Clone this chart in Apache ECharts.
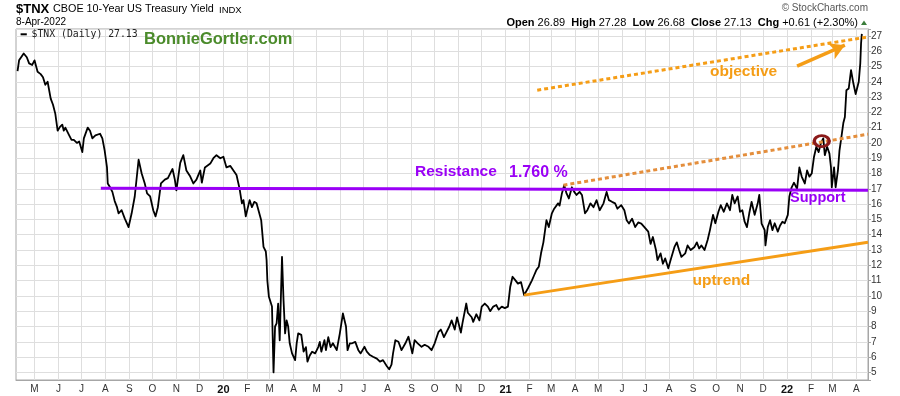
<!DOCTYPE html>
<html><head><meta charset="utf-8">
<script src="https://cdn.jsdelivr.net/npm/echarts@6/dist/echarts.min.js"></script>
<style>html,body{margin:0;padding:0;background:#fff}#c{width:900px;height:396px}</style>
</head><body><div id="c"></div><script>
// ---------- data ----------
const axisStart = '2019-04-07';
const axisEnd = '2022-04-16';
const monthLetters = ['J','F','M','A','M','J','J','A','S','O','N','D'];

const tnx2019 = [
['2019-04-09',24.7],['2019-04-11',25.4],['2019-04-15',25.7],['2019-04-17',25.85],['2019-04-21',25.6],['2019-04-24',25.2],['2019-04-28',25.1],
['2019-05-01',25.4],['2019-05-05',24.65],['2019-05-09',24.5],['2019-05-12',24.3],['2019-05-15',23.8],['2019-05-18',24.0],['2019-05-20',24.1],['2019-05-22',22.9],['2019-05-25',22.5],['2019-05-28',21.9],['2019-05-31',20.8],
['2019-06-03',21.05],['2019-06-06',21.2],['2019-06-08',20.8],['2019-06-10',21.0],['2019-06-15',20.5],['2019-06-18',20.2],['2019-06-21',20.2],['2019-06-25',20.0],['2019-06-28',20.1],
['2019-07-02',19.4],['2019-07-04',20.3],['2019-07-09',21.0],['2019-07-12',20.8],['2019-07-15',20.3],['2019-07-19',20.5],['2019-07-25',20.6],['2019-07-28',20.3],['2019-07-31',19.5],
['2019-08-03',18.4],['2019-08-04',17.35],['2019-08-07',17.1],['2019-08-10',16.8],['2019-08-13',16.2],['2019-08-16',15.8],['2019-08-18',15.4],['2019-08-22',15.6],['2019-08-26',15.07],['2019-08-31',14.5],
['2019-09-04',15.4],['2019-09-08',16.5],['2019-09-13',18.9],['2019-09-17',18.0],['2019-09-21',17.35],['2019-09-24',16.7],['2019-09-28',16.5],
['2019-10-02',15.6],['2019-10-05',15.2],['2019-10-08',15.8],['2019-10-12',17.35],['2019-10-17',17.6],['2019-10-21',17.7],['2019-10-27',18.3],['2019-10-30',17.6],
['2019-11-01',16.9],['2019-11-06',18.7],['2019-11-10',19.2],['2019-11-14',18.2],['2019-11-19',17.8],['2019-11-23',17.35],['2019-11-27',17.6],
['2019-12-02',18.2],['2019-12-04',17.4],['2019-12-08',18.4],['2019-12-15',18.65],['2019-12-19',19.0],['2019-12-23',19.2],['2019-12-28',19.0]
];
const tnx2020 = [
['2020-01-01',19.1],['2020-01-05',18.4],['2020-01-10',18.5],['2020-01-14',18.2],['2020-01-18',17.9],['2020-01-22',17.0],['2020-01-25',16.05],['2020-01-27',16.26],['2020-01-30',15.2],
['2020-02-01',15.07],['2020-02-04',16.26],['2020-02-07',15.8],['2020-02-10',16.15],['2020-02-13',16.05],['2020-02-16',15.5],['2020-02-19',14.95],['2020-02-22',13.2],['2020-02-25',12.9],['2020-02-26',12.34],['2020-02-27',11.0],['2020-02-29',9.94],
['2020-03-04',9.3],['2020-03-06',5.0],['2020-03-08',8.0],['2020-03-10',8.2],['2020-03-12',9.5],['2020-03-14',7.1],['2020-03-17',12.55],['2020-03-19',9.7],['2020-03-21',7.55],['2020-03-23',8.4],['2020-03-25',8.0],['2020-03-27',6.9],['2020-03-30',6.24],
['2020-04-03',5.8],['2020-04-05',6.9],['2020-04-07',7.55],['2020-04-11',7.45],['2020-04-14',6.35],['2020-04-17',6.65],['2020-04-19',5.7],['2020-04-22',6.1],['2020-04-25',6.35],['2020-04-29',6.24],
['2020-05-03',6.65],['2020-05-05',6.99],['2020-05-07',6.35],['2020-05-11',7.1],['2020-05-13',6.45],['2020-05-16',7.3],['2020-05-19',6.65],['2020-05-22',6.9],['2020-05-27',6.45],['2020-05-31',7.55],
['2020-06-04',8.85],['2020-06-08',8.0],['2020-06-10',6.45],['2020-06-13',6.9],['2020-06-16',6.9],['2020-06-20',6.99],['2020-06-24',6.45],['2020-06-27',6.24],
['2020-07-02',6.67],['2020-07-05',6.35],['2020-07-09',6.13],['2020-07-13',6.02],['2020-07-18',5.9],['2020-07-22',5.7],['2020-07-26',5.8],['2020-07-31',5.4],
['2020-08-03',5.2],['2020-08-06',5.5],['2020-08-08',6.24],['2020-08-11',7.1],['2020-08-15',7.0],['2020-08-19',6.45],['2020-08-24',6.9],['2020-08-28',7.33],['2020-08-30',6.9],
['2020-09-02',6.24],['2020-09-05',7.1],['2020-09-09',6.9],['2020-09-14',6.67],['2020-09-18',6.8],['2020-09-23',6.67],['2020-09-27',6.45],
['2020-10-01',6.9],['2020-10-06',7.65],['2020-10-09',7.8],['2020-10-13',7.3],['2020-10-16',7.6],['2020-10-20',8.0],['2020-10-23',8.4],['2020-10-27',7.8],['2020-10-30',8.6],
['2020-11-04',7.6],['2020-11-06',8.2],['2020-11-11',9.5],['2020-11-13',8.9],['2020-11-18',8.6],['2020-11-20',8.3],['2020-11-24',8.8],['2020-11-28',8.4],
['2020-12-01',9.3],['2020-12-05',9.5],['2020-12-09',9.3],['2020-12-12',9.0],['2020-12-16',9.3],['2020-12-20',9.4],['2020-12-23',9.1],['2020-12-27',9.3],['2020-12-31',9.2]
];
const tnx2021 = [
['2021-01-04',9.3],['2021-01-07',10.6],['2021-01-10',11.25],['2021-01-14',11.0],['2021-01-17',10.8],['2021-01-21',10.9],['2021-01-25',10.05],['2021-01-30',10.5],
['2021-02-04',11.0],['2021-02-07',11.35],['2021-02-10',11.7],['2021-02-13',11.9],['2021-02-16',12.8],['2021-02-19',13.5],['2021-02-23',14.95],['2021-02-26',14.5],
['2021-03-02',15.4],['2021-03-05',15.7],['2021-03-10',16.05],['2021-03-12',15.9],['2021-03-15',16.7],['2021-03-18',17.24],['2021-03-21',16.7],['2021-03-24',16.37],['2021-03-28',17.1],['2021-03-31',16.8],
['2021-04-03',16.6],['2021-04-07',16.8],['2021-04-10',16.6],['2021-04-14',15.4],['2021-04-17',15.6],['2021-04-21',16.05],['2021-04-25',15.8],['2021-04-29',16.26],
['2021-05-03',15.6],['2021-05-08',16.05],['2021-05-12',16.8],['2021-05-15',16.26],['2021-05-19',16.15],['2021-05-23',16.05],['2021-05-26',15.7],['2021-05-31',15.93],
['2021-06-04',15.6],['2021-06-07',14.95],['2021-06-10',14.73],['2021-06-14',15.05],['2021-06-18',14.5],['2021-06-22',14.8],['2021-06-26',14.73],['2021-06-30',14.5],
['2021-07-05',14.2],['2021-07-08',13.4],['2021-07-11',13.85],['2021-07-15',13.0],['2021-07-17',12.34],['2021-07-21',12.78],['2021-07-24',12.1],['2021-07-27',12.45],['2021-07-31',11.8],
['2021-08-03',12.34],['2021-08-08',13.2],['2021-08-11',13.5],['2021-08-14',13.0],['2021-08-17',12.55],['2021-08-22',12.78],['2021-08-25',13.3],['2021-08-29',13.0],
['2021-09-03',13.2],['2021-09-06',13.5],['2021-09-09',13.1],['2021-09-12',13.3],['2021-09-16',13.0],['2021-09-20',13.65],['2021-09-23',14.3],['2021-09-27',15.3],['2021-09-30',14.75],
['2021-10-04',15.5],['2021-10-07',15.93],['2021-10-11',15.5],['2021-10-15',16.05],['2021-10-19',15.6],['2021-10-22',16.6],['2021-10-25',16.05],['2021-10-29',16.5],
['2021-11-01',15.5],['2021-11-04',15.6],['2021-11-07',14.85],['2021-11-10',14.5],['2021-11-13',15.4],['2021-11-16',16.15],['2021-11-20',15.3],['2021-11-24',16.05],['2021-11-26',16.6],['2021-11-29',14.73],
['2021-12-03',14.3],['2021-12-04',13.3],['2021-12-07',14.5],['2021-12-10',14.95],['2021-12-13',14.3],['2021-12-16',14.75],['2021-12-20',14.2],['2021-12-23',14.6],['2021-12-26',14.85],['2021-12-29',14.75]
];
const tnx2022 = [
['2022-01-02',15.3],['2022-01-04',16.5],['2022-01-07',17.1],['2022-01-10',17.4],['2022-01-14',17.0],['2022-01-17',18.4],['2022-01-20',17.8],['2022-01-24',17.35],['2022-01-27',18.2],['2022-01-30',17.8],
['2022-02-02',18.0],['2022-02-05',19.1],['2022-02-08',19.75],['2022-02-11',19.4],['2022-02-14',20.0],['2022-02-17',20.3],['2022-02-19',19.2],['2022-02-22',19.75],['2022-02-25',19.3],['2022-02-27',18.4],['2022-02-28',17.1],
['2022-03-03',18.4],['2022-03-05',17.1],['2022-03-08',18.2],['2022-03-10',19.5],['2022-03-12',20.2],['2022-03-15',21.3],['2022-03-17',21.7],['2022-03-19',23.45],['2022-03-22',23.56],['2022-03-25',24.76],['2022-03-28',23.9],['2022-03-31',23.2],
['2022-04-04',24.0],['2022-04-06',25.2],['2022-04-07',26.5],['2022-04-08',27.13]
];

// annotation lines (drawn on the chart by the author)
const resistanceLine = [['2019-07-26',17.03],['2020-08-11',17.0],['2022-04-16',16.9]];
const channelLine = [['2021-03-17',17.24],['2022-04-16',20.57]];
const objectiveLine = [['2021-02-11',23.45],['2022-04-16',26.93]];
const uptrendLine = [['2021-01-25',10.05],['2022-04-16',13.5]];
const arrowLine = [['2022-01-14',25.02],['2022-03-17',26.39]];
const circledPoint = [['2022-02-15',20.12]];

// ---------- helpers ----------
const DAY = 86400000;
function utc(s){const p=s.split('-').map(Number);return Date.UTC(p[0],p[1]-1,p[2]);}
const categories = [];
for (let t = utc(axisStart); t <= utc(axisEnd); t += DAY) categories.push(new Date(t).toISOString().slice(0,10));
const idx = s => Math.round((utc(s) - utc(axisStart)) / DAY);
const toXY = arr => arr.map(p => [idx(p[0]), p[1]]);
const isMonthStart = (i, v) => typeof v === 'string' && v.slice(8) === '01';

const FONT = '"Liberation Sans", Arial, sans-serif';
const PURPLE = '#9a00f6';
const ORANGE = '#f59d16';
const ORANGE2 = '#e48e3c';

const chart = echarts.init(document.getElementById('c'), null, {renderer:'canvas'});
chart.setOption({
  animation: false,
  backgroundColor: '#fff',
  grid: {left:16, right:32, top:29, bottom:16, show:true, borderColor:'#a6a6a6', borderWidth:1, backgroundColor:'#fff', containLabel:false, outerBoundsMode:'none'},
  xAxis: {
    type:'category', data: categories, boundaryGap:false,
    axisLine:{show:true, lineStyle:{color:'#a6a6a6', width:1}},
    axisTick:{show:false},
    axisLabel:{interval:isMonthStart, margin:4, color:'#333', fontSize:10, fontFamily:FONT,
      formatter: v => { const m = +v.slice(5,7); return m === 1 ? '{yr|' + v.slice(2,4) + '}' : monthLetters[m-1]; },
      rich:{yr:{fontWeight:'bold', fontSize:11, fontFamily:FONT, color:'#111'}}},
    splitLine:{show:true, interval:isMonthStart, lineStyle:{color:'#dedede', width:1}}
  },
  yAxis: {
    type:'value', position:'right', min:4.5, max:27.45, minInterval:1, maxInterval:1, splitNumber:23, scale:false,
    axisLine:{show:true, lineStyle:{color:'#a6a6a6', width:1}},
    axisTick:{show:true, length:3, lineStyle:{color:'#a6a6a6'}},
    axisLabel:{margin:3, color:'#333', fontSize:10, fontFamily:FONT, formatter: v => Number.isInteger(v) ? String(v) : ''},
    splitLine:{show:true, lineStyle:{color:'#dedede', width:1}}
  },
  series: [
    {type:'line', name:'$TNX', data: toXY([].concat(tnx2019, tnx2020, tnx2021, tnx2022)), symbol:'none', showSymbol:false,
     lineStyle:{color:'#000', width:1.8, join:'round'}, itemStyle:{color:'#000'}, z:3, silent:true},
    {type:'line', data: toXY(resistanceLine), symbol:'none', lineStyle:{color:PURPLE, width:3}, z:4, silent:true},
    {type:'line', data: toXY(channelLine), symbol:'none', lineStyle:{color:ORANGE2, width:3, type:[4,3], cap:'butt'}, z:4, silent:true},
    {type:'line', data: toXY(objectiveLine), symbol:'none', lineStyle:{color:ORANGE, width:3, type:[4,3], cap:'butt'}, z:4, silent:true},
    {type:'line', data: toXY(uptrendLine), symbol:'none', lineStyle:{color:ORANGE, width:3}, z:4, silent:true},
    {type:'line', data: [], symbol:'none', silent:true, z:4,
     markLine:{silent:true, symbol:['none','arrow'], symbolSize:[13,15], label:{show:false},
       lineStyle:{color:ORANGE, width:3.5, type:'solid'}, emphasis:{disabled:true},
       data:[[{coord: toXY(arrowLine)[0]}, {coord: toXY(arrowLine)[1]}]]}},
    {type:'scatter', data: toXY(circledPoint), symbol:'circle', symbolSize:[15,11], silent:true, z:5,
     itemStyle:{color:'rgba(0,0,0,0)', borderColor:'#8b1a1a', borderWidth:3, opacity:1}}
  ],
  graphic: [
    {type:'text', x:16, y:9, style:{text:'$TNX', font:'bold 13px '+FONT, fill:'#000', verticalAlign:'middle', textVerticalAlign:'middle'}},
    {type:'text', x:53, y:9.5, style:{text:'CBOE 10-Year US Treasury Yield', font:'10.8px '+FONT, fill:'#000', verticalAlign:'middle', textVerticalAlign:'middle'}},
    {type:'text', x:219, y:10, style:{text:'INDX', font:'9.5px '+FONT, fill:'#000', verticalAlign:'middle', textVerticalAlign:'middle'}},
    {type:'text', x:16, y:22.5, style:{text:'8-Apr-2022', font:'10px '+FONT, fill:'#000', verticalAlign:'middle', textVerticalAlign:'middle'}},
    {type:'text', x:868, y:8.5, style:{text:'\u00A9 StockCharts.com', font:'10px '+FONT, fill:'#555', align:'right', textAlign:'right', verticalAlign:'middle', textVerticalAlign:'middle'}},
    {type:'text', x:858, y:22.5, style:{text:'{b|Open} 26.89  {b|High} 27.28  {b|Low} 26.68  {b|Close} 27.13  {b|Chg} +0.61 (+2.30%)', font:'11px '+FONT, fill:'#000', align:'right', textAlign:'right', verticalAlign:'middle', textVerticalAlign:'middle',
      rich:{b:{fontWeight:'bold', fontSize:11, fontFamily:FONT, fill:'#000'}}}},
    {type:'polygon', shape:{points:[[861,25],[867,25],[864,20.5]]}, style:{fill:'#3a7d3a'}},
    {type:'rect', shape:{x:20.6, y:33.3, width:6.2, height:2}, style:{fill:'#000'}, z:10},
    {type:'text', x:31.5, y:34.8, z:10, style:{text:'$TNX (Daily) 27.13', font:'9.8px "DejaVu Sans Mono", monospace', fill:'#222', verticalAlign:'middle', textVerticalAlign:'middle'}},
    {type:'text', x:144, y:39.5, z:10, style:{text:'BonnieGortler.com', font:'bold 16.5px '+FONT, fill:'#4b8b2b', verticalAlign:'middle', textVerticalAlign:'middle'}},
    {type:'text', x:415, y:172, z:10, style:{text:'Resistance', font:'bold 15.5px '+FONT, fill:PURPLE, verticalAlign:'middle', textVerticalAlign:'middle'}},
    {type:'text', x:509, y:172.5, z:10, style:{text:'1.760 %', font:'bold 16px '+FONT, fill:PURPLE, verticalAlign:'middle', textVerticalAlign:'middle'}},
    {type:'text', x:790, y:197.5, z:10, style:{text:'Support', font:'bold 14.5px '+FONT, fill:PURPLE, verticalAlign:'middle', textVerticalAlign:'middle'}},
    {type:'text', x:710, y:72, z:10, style:{text:'objective', font:'bold 15.5px '+FONT, fill:ORANGE, verticalAlign:'middle', textVerticalAlign:'middle'}},
    {type:'text', x:692.5, y:281, z:10, style:{text:'uptrend', font:'bold 15.5px '+FONT, fill:ORANGE, verticalAlign:'middle', textVerticalAlign:'middle'}}
  ]
});
</script></body></html>
